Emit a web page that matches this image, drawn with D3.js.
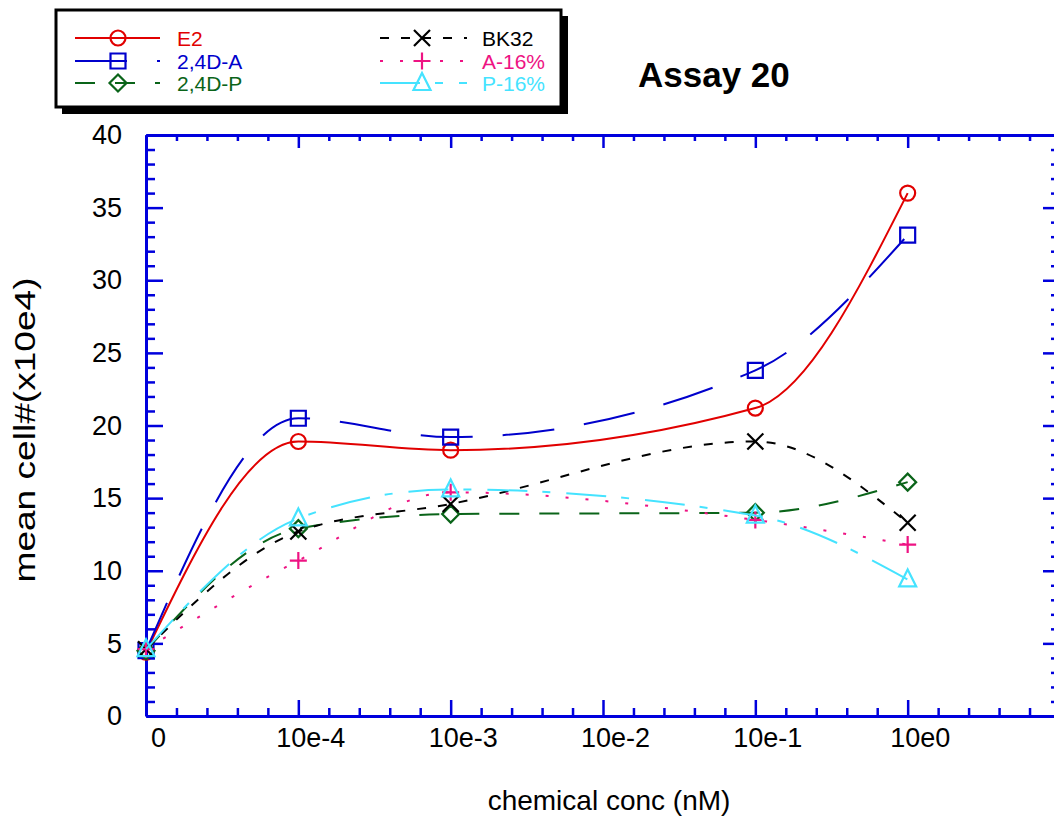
<!DOCTYPE html>
<html>
<head>
<meta charset="utf-8">
<script src="https://cdn.jsdelivr.net/npm/d3@7"></script>
<style>
  html, body { margin: 0; padding: 0; background: #fff; }
  svg { display: block; font-family: "Liberation Sans", Arial, sans-serif; }
</style>
</head>
<body>
<svg id="chart" width="1054" height="819"></svg>
<script>
// Concentration axis labels (one decade per step) and the doses actually tested
const concLabels = ["0", "10e-4", "10e-3", "10e-2", "10e-1", "10e0"];
const testedConc = ["0", "10e-4", "10e-3", "10e-1", "10e0"];

// Mean cell number (x10e4) for each treatment at the tested doses
const e2Values     = [4.4, 18.9, 18.3, 21.2, 36.0];
const d24AValues   = [4.5, 20.5, 19.2, 23.8, 33.1];
const d24PValues   = [4.5, 12.9, 13.9, 14.0, 16.1];
const bk32Values   = [4.6, 12.7, 14.6, 18.9, 13.3];
const a16Values    = [4.6, 10.7, 15.4, 13.5, 11.8];
const p16Values    = [4.6, 13.6, 15.6, 13.8, 9.4];

const seriesNames = ["E2", "2,4D-A", "2,4D-P", "BK32", "A-16%", "P-16%"];
const yTicks = [0, 5, 10, 15, 20, 25, 30, 35, 40];

const styles = [
  { color: "#e10000", dash: null,          marker: "circle"   },
  { color: "#0000cc", dash: "52,30",       marker: "square"   },
  { color: "#0a6419", dash: "20,20",       marker: "diamond"  },
  { color: "#000000", dash: "9,12",        marker: "x"        },
  { color: "#ee1383", dash: "3,17",        marker: "plus"     },
  { color: "#45e3ff", dash: "40,15,8,16",  marker: "triangle" }
];
const valueSets = [e2Values, d24AValues, d24PValues, bk32Values, a16Values, p16Values];

const series = seriesNames.map((name, i) => ({
  name,
  ...styles[i],
  points: testedConc.map((c, j) => ({ pos: concLabels.indexOf(c), value: valueSets[i][j] }))
}));

const svg = d3.select("#chart");
const axisColor = "#0000dd";

// Plot frame
const frameLeft = 146, frameRight = 1060, frameTop = 135, frameBottom = 716;
const x = d3.scaleLinear().domain([0, 6]).range([frameLeft, frameRight]);
const y = d3.scaleLinear().domain([0, 40]).range([frameBottom, frameTop]);

const majorX = d3.range(0, 7);
const minorX = d3.range(0, 6.001, 0.2).filter(v => Math.abs(v - Math.round(v)) > 1e-6);
const minorY = d3.range(0, 41).filter(v => v % 5 !== 0);

function styleAxis(g) {
  g.selectAll("path.domain").attr("stroke", axisColor).attr("stroke-width", 3);
  g.selectAll(".tick line").attr("stroke", axisColor).attr("stroke-width", 2.5);
  g.selectAll(".tick text").attr("fill", "#000").attr("font-size", 27)
    .attr("font-family", "'Liberation Sans', Arial, sans-serif");
}

// Bottom axis
const gBottom = svg.append("g").attr("transform", `translate(0,${frameBottom})`);
gBottom.call(d3.axisBottom(x).tickValues(minorX).tickSize(-8).tickSizeOuter(0).tickFormat(""));
gBottom.select("path.domain").remove();
const gBottomMajor = svg.append("g").attr("transform", `translate(0,${frameBottom})`);
gBottomMajor.call(d3.axisBottom(x).tickValues(majorX).tickSize(-16).tickSizeOuter(0)
  .tickPadding(28).tickFormat(d => concLabels[d] !== undefined ? concLabels[d] : ""));
gBottomMajor.selectAll(".tick text").attr("dx", 12).attr("dy", "0.1em");
styleAxis(gBottom); styleAxis(gBottomMajor);

// Top axis
const gTop = svg.append("g").attr("transform", `translate(0,${frameTop})`);
gTop.call(d3.axisTop(x).tickValues(minorX).tickSize(-6).tickSizeOuter(0).tickFormat(""));
gTop.select("path.domain").remove();
const gTopMajor = svg.append("g").attr("transform", `translate(0,${frameTop})`);
gTopMajor.call(d3.axisTop(x).tickValues(majorX).tickSize(-13).tickSizeOuter(0).tickFormat(""));
styleAxis(gTop); styleAxis(gTopMajor);

// Left axis
const gLeft = svg.append("g").attr("transform", `translate(${frameLeft},0)`);
gLeft.call(d3.axisLeft(y).tickValues(minorY).tickSize(-9).tickSizeOuter(0).tickFormat(""));
gLeft.select("path.domain").remove();
const gLeftMajor = svg.append("g").attr("transform", `translate(${frameLeft},0)`);
gLeftMajor.call(d3.axisLeft(y).tickValues(yTicks).tickSize(-17).tickSizeOuter(0).tickPadding(24));
styleAxis(gLeft); styleAxis(gLeftMajor);

// Right axis
const gRight = svg.append("g").attr("transform", `translate(${frameRight},0)`);
gRight.call(d3.axisRight(y).tickValues(minorY).tickSize(-9).tickSizeOuter(0).tickFormat(""));
gRight.select("path.domain").remove();
const gRightMajor = svg.append("g").attr("transform", `translate(${frameRight},0)`);
gRightMajor.call(d3.axisRight(y).tickValues(yTicks).tickSize(-17).tickSizeOuter(0).tickFormat(""));
styleAxis(gRight); styleAxis(gRightMajor);

// Axis titles
svg.append("text")
  .attr("x", 609).attr("y", 810)
  .attr("text-anchor", "middle").attr("font-size", 28)
  .text("chemical conc (nM)");

svg.append("text")
  .attr("transform", "translate(35,430) rotate(-90)")
  .attr("text-anchor", "middle").attr("font-size", 29)
  .attr("textLength", 305).attr("lengthAdjust", "spacingAndGlyphs")
  .text("mean cell#(x10e4)");

// Chart title
svg.append("text")
  .attr("x", 638).attr("y", 87)
  .attr("font-size", 35).attr("font-weight", "bold")
  .text("Assay 20");

// Marker shapes
function markerPath(kind) {
  switch (kind) {
    case "circle":   return d3.arc()({ innerRadius: 0, outerRadius: 7.5, startAngle: 0, endAngle: 2 * Math.PI });
    case "square":   return "M-7.5,-7.5H7.5V7.5H-7.5Z";
    case "diamond":  return "M0,-8.5L8.5,0L0,8.5L-8.5,0Z";
    case "x":        return "M-8,-8L8,8M-8,8L8,-8";
    case "plus":     return "M-8.5,0H8.5M0,-8.5V8.5";
    case "triangle": return "M0,-10L8.5,7L-8.5,7Z";
  }
}

// Curves and markers
const line = d3.line()
  .x(d => x(d.pos))
  .y(d => y(d.value))
  .curve(d3.curveMonotoneX);

const plot = svg.append("g");
series.forEach(s => {
  const g = plot.append("g");
  g.append("path")
    .datum(s.points)
    .attr("d", line)
    .attr("fill", "none")
    .attr("stroke", s.color)
    .attr("stroke-width", 2)
    .attr("stroke-dasharray", s.dash);
  g.selectAll("path.mk")
    .data(s.points)
    .join("path")
    .attr("class", "mk")
    .attr("transform", d => `translate(${x(d.pos)},${y(d.value)})`)
    .attr("d", markerPath(s.marker))
    .attr("fill", "none")
    .attr("stroke", s.color)
    .attr("stroke-width", 2.2);
});

// Legend box with drop shadow
const legend = svg.append("g");
legend.append("rect").attr("x", 62).attr("y", 16).attr("width", 506).attr("height", 98).attr("fill", "#000");
legend.append("rect").attr("x", 56).attr("y", 10).attr("width", 505).attr("height", 97)
  .attr("fill", "#fff").attr("stroke", "#000").attr("stroke-width", 3);

const legendCols = [
  { x0: 75, x1: 160, xm: 118, xt: 177 },
  { x0: 380, x1: 467, xm: 422, xt: 482 }
];
const legendRows = [38, 61, 83];

series.forEach((s, i) => {
  const col = legendCols[Math.floor(i / 3)];
  const ly = legendRows[i % 3];
  const g = legend.append("g");
  g.append("line")
    .attr("x1", col.x0).attr("x2", col.x1).attr("y1", ly).attr("y2", ly)
    .attr("stroke", s.color).attr("stroke-width", 2)
    .attr("stroke-dasharray", s.dash);
  g.append("path")
    .attr("transform", `translate(${col.xm},${ly})`)
    .attr("d", markerPath(s.marker))
    .attr("fill", "none").attr("stroke", s.color).attr("stroke-width", 2.2);
  g.append("text")
    .attr("x", col.xt).attr("y", ly + 7.5)
    .attr("font-size", 21).attr("fill", s.color)
    .text(s.name);
});
</script>
</body>
</html>
